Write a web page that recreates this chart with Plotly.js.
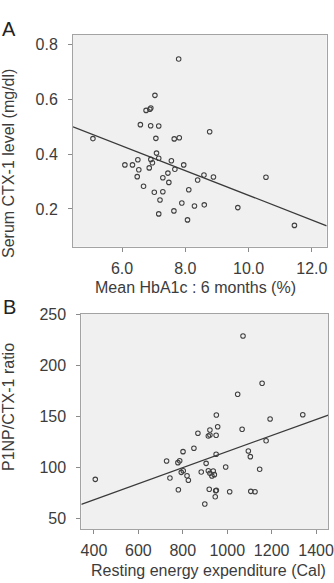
<!DOCTYPE html>
<html>
<head>
<meta charset="utf-8">
<script src="https://cdn.plot.ly/plotly-3.0.1.min.js"></script>
<style>
  html, body { margin: 0; padding: 0; background: #ffffff; }
  #chart { width: 334px; height: 583px; }
</style>
</head>
<body>
<div id="chart"></div>
<script>
// Panel A: mean HbA1c over 6 months (%) vs serum CTX-1 (mg/dl)
const hba1c = [5.08, 6.09, 6.33, 6.50, 6.53, 6.48, 6.58, 6.68, 6.76, 6.88, 6.91, 6.86, 6.91, 6.96, 6.905,
               7.02, 7.04, 7.07, 7.09, 7.16, 7.16, 7.16, 7.20, 7.29, 7.29, 7.45, 7.48, 7.56, 7.64, 7.65,
               7.67, 7.79, 7.81, 7.89, 7.95, 8.07, 8.11, 8.29, 8.39, 8.59, 8.60, 8.77, 8.89, 9.66, 10.55, 11.45];
const ctx1 = [0.457, 0.361, 0.361, 0.380, 0.343, 0.318, 0.508, 0.283, 0.560, 0.564, 0.569, 0.350, 0.381, 0.369, 0.504,
              0.261, 0.615, 0.458, 0.404, 0.385, 0.503, 0.182, 0.233, 0.314, 0.263, 0.331, 0.297, 0.376, 0.193, 0.456,
              0.345, 0.748, 0.460, 0.222, 0.361, 0.160, 0.270, 0.211, 0.306, 0.324, 0.215, 0.482, 0.317, 0.205, 0.316, 0.140];
const fitA = { intercept: 0.701, slope: -0.0451 };
const ticksAx = [6, 8, 10, 12];
const ticksAy = [0.2, 0.4, 0.6, 0.8];

// Panel B: resting energy expenditure (Cal) vs P1NP/CTX-1 ratio
const ree = [406, 727, 742, 780, 778, 786, 793, 802, 801, 819, 825, 850, 868, 883, 899, 905,
             915, 922, 937, 942, 931, 919, 915, 922, 922, 950, 957, 950, 946, 948, 951, 951,
             993, 1011, 1047, 1067, 1071, 1095, 1104, 1106, 1125, 1146, 1157, 1175, 1193, 1340];
const ratio = [88.3, 106.3, 89.6, 78.1, 104.7, 106.6, 95.2, 96.8, 115.5, 91.9, 87.4, 118.8, 133.6, 95.5, 64.0, 104.0,
               96.8, 94.2, 96.5, 92.9, 91.6, 78.5, 130.9, 131.9, 136.8, 131.6, 140.0, 112.9, 71.2, 77.1, 77.5, 151.5,
               100.4, 76.1, 171.9, 137.5, 229.2, 116.2, 110.6, 76.5, 76.1, 98.2, 182.7, 126.3, 147.6, 151.8];
const fitB = { intercept: 36.7, slope: 0.0789 };
const ticksBx = [400, 600, 800, 1000, 1200, 1400];
const ticksBy = [50, 100, 150, 200, 250];

const W = 334, H = 583;
const FONT = 'Arial, "Liberation Sans", sans-serif';
const rangeAx = [4.45, 12.47], rangeAy = [0.0622, 0.8365];
const rangeBx = [343, 1455], rangeBy = [39.5, 251.3];

const markerStyle = { symbol: 'circle-open', size: 4.5, color: '#404040', line: { width: 1.1, color: '#404040' } };
const lineStyle = { color: '#3a3a3a', width: 1.3 };

const traces = [
  { x: hba1c, y: ctx1, type: 'scatter', mode: 'markers', marker: markerStyle, xaxis: 'x', yaxis: 'y', hoverinfo: 'x+y' },
  { x: rangeAx, y: rangeAx.map(v => fitA.intercept + fitA.slope * v), type: 'scatter', mode: 'lines',
    line: lineStyle, xaxis: 'x', yaxis: 'y', hoverinfo: 'skip' },
  { x: ree, y: ratio, type: 'scatter', mode: 'markers', marker: markerStyle, xaxis: 'x2', yaxis: 'y2', hoverinfo: 'x+y' },
  { x: rangeBx, y: rangeBx.map(v => fitB.intercept + fitB.slope * v), type: 'scatter', mode: 'lines',
    line: lineStyle, xaxis: 'x2', yaxis: 'y2', hoverinfo: 'skip' }
];

const px = v => v / W;          // horizontal pixel -> paper
const py = v => 1 - v / H;      // vertical pixel -> paper

const axisBase = {
  showline: true, mirror: true, linecolor: '#a3a3a3', linewidth: 1,
  ticks: 'outside', ticklen: 4, tickcolor: '#8a8a8a', tickwidth: 1,
  showgrid: false, zeroline: false, fixedrange: true,
  tickfont: { family: FONT, size: 16, color: '#3c3c3c' }
};

const layout = {
  width: W, height: H,
  margin: { l: 0, r: 0, t: 0, b: 0 },
  paper_bgcolor: '#ffffff',
  plot_bgcolor: '#f0f0f0',
  showlegend: false,
  xaxis: Object.assign({}, axisBase, {
    domain: [px(73), px(326.7)], anchor: 'y', range: rangeAx,
    tickvals: ticksAx, ticktext: ticksAx.map(v => v.toFixed(1)), ticklabelstandoff: 3
  }),
  yaxis: Object.assign({}, axisBase, {
    domain: [py(246.7), py(34.7)], anchor: 'x', range: rangeAy,
    tickvals: ticksAy, ticktext: ticksAy.map(v => v.toFixed(1)), ticklabelstandoff: 7
  }),
  xaxis2: Object.assign({}, axisBase, {
    domain: [px(81.3), px(328.3)], anchor: 'y2', range: rangeBx,
    tickvals: ticksBx, ticktext: ticksBx.map(String), ticklabelstandoff: 3
  }),
  yaxis2: Object.assign({}, axisBase, {
    domain: [py(529), py(313.5)], anchor: 'x2', range: rangeBy,
    tickvals: ticksBy, ticktext: ticksBy.map(String), ticklabelstandoff: 7
  }),
  annotations: [
    { text: 'A', xref: 'paper', yref: 'paper', x: px(0), y: py(29), xanchor: 'left', yanchor: 'middle',
      showarrow: false, font: { family: FONT, size: 20, color: '#222222' } },
    { text: 'B', xref: 'paper', yref: 'paper', x: px(1), y: py(306.7), xanchor: 'left', yanchor: 'middle',
      showarrow: false, font: { family: FONT, size: 20, color: '#222222' } },
    { text: 'Serum CTX-1 level (mg/dl)', xref: 'paper', yref: 'paper', x: px(8), y: py(164),
      xanchor: 'center', yanchor: 'middle', textangle: -90, showarrow: false,
      font: { family: FONT, size: 16, color: '#3c3c3c' } },
    { text: 'Mean HbA1c : 6 months (%)', xref: 'paper', yref: 'paper', x: px(195.8), y: py(288),
      xanchor: 'center', yanchor: 'middle', showarrow: false,
      font: { family: FONT, size: 16, color: '#3c3c3c' } },
    { text: 'P1NP/CTX-1 ratio', xref: 'paper', yref: 'paper', x: px(8.5), y: py(407.5),
      xanchor: 'center', yanchor: 'middle', textangle: -90, showarrow: false,
      font: { family: FONT, size: 16, color: '#3c3c3c' } },
    { text: 'Resting energy expenditure (Cal)', xref: 'paper', yref: 'paper', x: px(89.3), y: py(570),
      xanchor: 'left', yanchor: 'middle', showarrow: false,
      font: { family: FONT, size: 16, color: '#3c3c3c' } }
  ]
};

Plotly.newPlot('chart', traces, layout, { displayModeBar: false, staticPlot: true });
</script>
</body>
</html>
